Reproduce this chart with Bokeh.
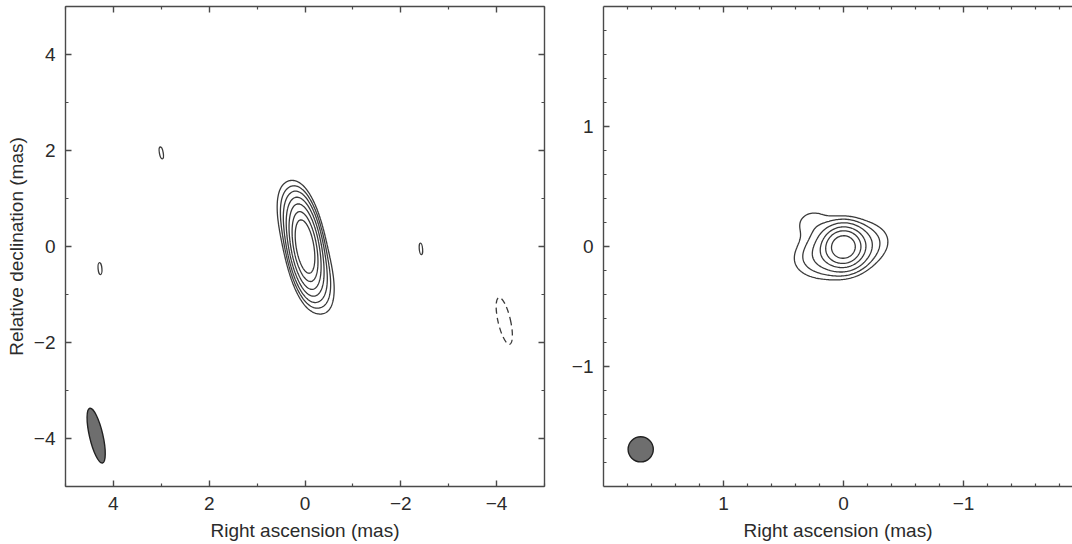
import numpy as np
from bokeh.plotting import figure
from bokeh.layouts import row
from bokeh.models import Range1d, LinearAxis, FixedTicker
from bokeh.embed import file_html
from bokeh.resources import INLINE

# ---------------- left panel data ----------------
left_x_ticks = [4, 2, 0, -2, -4]
left_x_labels = ["4", "2", "0", "\u22122", "\u22124"]
left_y_ticks = [4, 2, 0, -2, -4]
left_y_labels = ["4", "2", "0", "\u22122", "\u22124"]
left_minor_ticks = [-5, -3, -1, 1, 3, 5]

# restored Gaussian components: RA (mas), Dec (mas), peak, FWHM major, FWHM minor, PA (deg E of N)
left_comp_ra = [0.0, 0.20, -0.22]
left_comp_dec = [0.0, 0.45, -0.50]
left_comp_peak = [1.0, 0.04, 0.045]
left_comp_maj = [1.0, 1.1, 1.1]
left_comp_min = [0.33, 0.42, 0.42]
left_comp_pa = [9.0, 14.0, 14.0]
left_levels = [0.008, 0.016, 0.031, 0.0625, 0.125, 0.25, 0.45]

# isolated lowest-level contour islands (solid = positive, dashed = negative)
left_pos_ra = [3.0, 4.28, -2.42]
left_pos_dec = [1.95, -0.46, -0.05]
left_pos_maj = [0.25, 0.25, 0.24]
left_pos_min = [0.08, 0.08, 0.07]
left_pos_pa = [10.0, 5.0, 5.0]
left_neg_ra = [-4.16]
left_neg_dec = [-1.55]
left_neg_maj = [1.0]
left_neg_min = [0.26]
left_neg_pa = [13.0]

left_beam_ra = [4.36]
left_beam_dec = [-3.94]
left_beam_maj = [1.17]
left_beam_min = [0.28]
left_beam_pa = [13.0]

# ---------------- right panel data ----------------
right_x_ticks = [1, 0, -1]
right_x_labels = ["1", "0", "\u22121"]
right_y_ticks = [1, 0, -1]
right_y_labels = ["1", "0", "\u22121"]
right_minor_ticks = [-1.8, -1.6, -1.4, -1.2, -0.8, -0.6, -0.4, -0.2,
                     0.2, 0.4, 0.6, 0.8, 1.2, 1.4, 1.6, 1.8]

right_comp_ra = [0.0, 0.02, 0.26]
right_comp_dec = [0.0, -0.03, 0.20]
right_comp_peak = [0.8, 0.2, 0.034]
right_comp_maj = [0.21, 0.46, 0.28]
right_comp_min = [0.21, 0.26, 0.22]
right_comp_pa = [0.0, 105.0, 100.0]
right_levels = [0.025, 0.05, 0.1, 0.2, 0.35, 0.6]

right_beam_ra = [1.69]
right_beam_dec = [-1.69]
right_beam_maj = [0.21]
right_beam_min = [0.21]
right_beam_pa = [0.0]

FONT = "Liberation Sans"
TXT = "#2b2b2b"
AX = "#4a4a4a"
CL = "#3a3a3a"


def model_image(ra, dec, peak, maj, mn, pa, xs, ys):
    X, Y = np.meshgrid(xs, ys)
    Z = np.zeros_like(X)
    for r0, d0, a, M, m, t in zip(ra, dec, peak, maj, mn, pa):
        th = np.radians(t)
        dx, dy = X - r0, Y - d0
        u = dx * np.sin(th) + dy * np.cos(th)
        v = dx * np.cos(th) - dy * np.sin(th)
        sa, sb = M / 2.3548, m / 2.3548
        Z += a * np.exp(-0.5 * ((u / sa) ** 2 + (v / sb) ** 2))
    return Z


def style_axis(ax, ticks, minor, labels, show_labels=True, label=None):
    ax.ticker = FixedTicker(ticks=ticks, minor_ticks=minor)
    ax.major_tick_in = 6
    ax.major_tick_out = 0
    ax.minor_tick_in = 3
    ax.minor_tick_out = 0
    ax.axis_line_color = AX
    ax.axis_line_width = 1.4
    ax.major_tick_line_color = AX
    ax.major_tick_line_width = 1.4
    ax.minor_tick_line_color = AX
    ax.minor_tick_line_width = 1.2
    if show_labels:
        ax.major_label_overrides = {t: l for t, l in zip(ticks, labels)}
        ax.major_label_text_font = FONT
        ax.major_label_text_font_size = "19px"
        ax.major_label_text_color = TXT
        ax.major_label_standoff = 10
    else:
        ax.major_label_overrides = {t: "" for t in ticks}
        ax.major_label_text_font_size = "0px"
        ax.major_label_standoff = 0
    if label:
        ax.axis_label = label
        ax.axis_label_text_font = FONT
        ax.axis_label_text_font_size = "19px"
        ax.axis_label_text_font_style = "normal"
        ax.axis_label_text_color = TXT
        ax.axis_label_standoff = 7


def make_fig(xr, yr, fw, fh, bl, br):
    p = figure(frame_width=fw, frame_height=fh, x_range=xr, y_range=yr,
               output_backend="svg", toolbar_location=None,
               min_border_left=bl, min_border_right=br, min_border_top=6,
               min_border_bottom=58)
    p.grid.visible = False
    p.outline_line_color = None
    p.background_fill_color = "white"
    p.border_fill_color = "white"
    return p


# ---------------- left figure ----------------
p1 = make_fig(Range1d(5, -5), Range1d(-5, 5), 479, 480, 65, 10)
style_axis(p1.xaxis[0], left_x_ticks, left_minor_ticks, left_x_labels, True, "Right ascension (mas)")
style_axis(p1.yaxis[0], left_y_ticks, left_minor_ticks, left_y_labels, True, "Relative declination (mas)")
p1.yaxis[0].axis_label_standoff = 4
top1 = LinearAxis()
style_axis(top1, left_x_ticks, left_minor_ticks, left_x_labels, False)
p1.add_layout(top1, "above")
right1 = LinearAxis()
style_axis(right1, left_y_ticks, left_minor_ticks, left_y_labels, False)
p1.add_layout(right1, "right")

xs = np.linspace(-5, 5, 501)
ys = np.linspace(-5, 5, 501)
Z1 = model_image(left_comp_ra, left_comp_dec, left_comp_peak, left_comp_maj,
                 left_comp_min, left_comp_pa, xs, ys)
p1.contour(xs, ys, Z1, left_levels, line_color=CL, line_width=1.3)

p1.ellipse(x=left_pos_ra, y=left_pos_dec, width=left_pos_min, height=left_pos_maj,
           angle=left_pos_pa, angle_units="deg", fill_color=None,
           line_color=CL, line_width=1.3)
p1.ellipse(x=left_neg_ra, y=left_neg_dec, width=left_neg_min, height=left_neg_maj,
           angle=left_neg_pa, angle_units="deg", fill_color=None,
           line_color=CL, line_width=1.3, line_dash="6 4")
p1.ellipse(x=left_beam_ra, y=left_beam_dec, width=left_beam_min, height=left_beam_maj,
           angle=left_beam_pa, angle_units="deg", fill_color="#6e6e6e",
           line_color="#222222", line_width=1.4)

# ---------------- right figure ----------------
p2 = make_fig(Range1d(2, 2 - 469 / 120), Range1d(-2, 2), 469, 480, 49, 0)
style_axis(p2.xaxis[0], right_x_ticks, right_minor_ticks, right_x_labels, True, "Right ascension (mas)")
style_axis(p2.yaxis[0], right_y_ticks, right_minor_ticks, right_y_labels, True, None)
top2 = LinearAxis()
style_axis(top2, right_x_ticks, right_minor_ticks, right_x_labels, False)
p2.add_layout(top2, "above")

xs2 = np.linspace(-2, 2, 401)
ys2 = np.linspace(-2, 2, 401)
Z2 = model_image(right_comp_ra, right_comp_dec, right_comp_peak, right_comp_maj,
                 right_comp_min, right_comp_pa, xs2, ys2)
p2.contour(xs2, ys2, Z2, right_levels, line_color=CL, line_width=1.3)

p2.ellipse(x=right_beam_ra, y=right_beam_dec, width=right_beam_min, height=right_beam_maj,
           angle=right_beam_pa, angle_units="deg", fill_color="#6e6e6e",
           line_color="#222222", line_width=1.4)

layout = row(p1, p2)
open("out.html", "w").write(file_html(layout, INLINE))
